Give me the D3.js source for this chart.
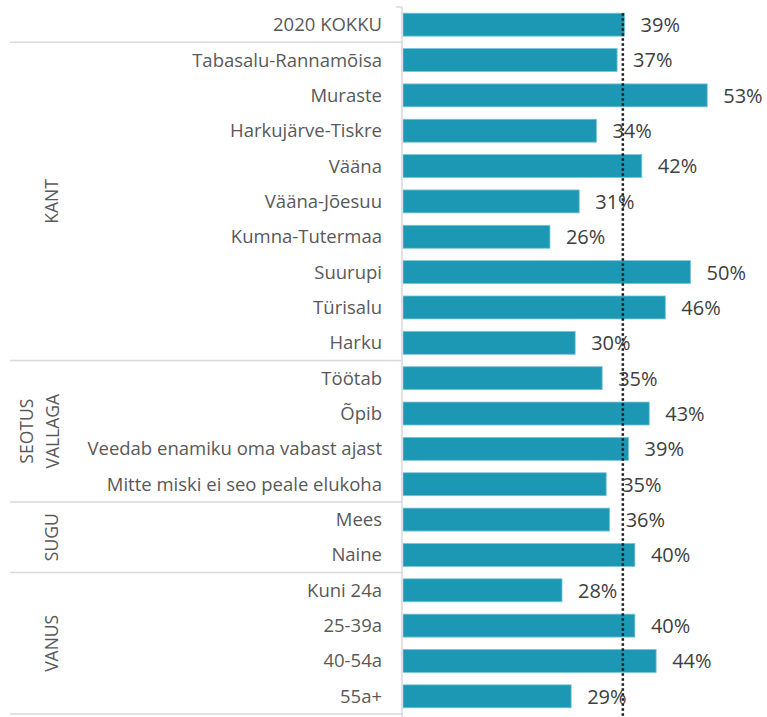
<!DOCTYPE html>
<html><head><meta charset="utf-8">
<script src="https://cdn.jsdelivr.net/npm/d3@7"></script>
<style>body{margin:0;background:#fff}svg{display:block}</style>
</head><body>
<script>
const categories = ["2020 KOKKU","Tabasalu-Rannamõisa","Muraste","Harkujärve-Tiskre","Vääna","Vääna-Jõesuu","Kumna-Tutermaa","Suurupi","Türisalu","Harku","Töötab","Õpib","Veedab enamiku oma vabast ajast","Mitte miski ei seo peale elukoha","Mees","Naine","Kuni 24a","25-39a","40-54a","55a+"];
const values = [38.6,37.3,53.0,33.7,41.6,30.7,25.6,50.1,45.7,30.0,34.7,42.9,39.3,35.4,36.0,40.4,27.7,40.4,44.1,29.3];
const groups = [
  {lines:[""], from:0, to:0},
  {lines:["KANT"], from:1, to:9},
  {lines:["SEOTUS","VALLAGA"], from:10, to:13},
  {lines:["SUGU"], from:14, to:15},
  {lines:["VANUS"], from:16, to:19}
];
const referenceValue = 38.3;

const W=767,H=717;
const svg=d3.select("body").append("svg").attr("width",W).attr("height",H);
const axisX=402, plotTop=7, plotBottom=714, plotLeft=10;
const x=d3.scaleLinear().domain([0,100]).range([axisX+1, axisX+1+574]);
const y=d3.scaleBand().domain(d3.range(categories.length)).range([plotTop,plotBottom]).paddingInner(0.35).paddingOuter(0.175);
const rowY=d3.scaleLinear().domain([0,categories.length]).range([plotTop,plotBottom]);
const font="'Open Sans', Lato, sans-serif";

// bars
svg.selectAll("rect.bar").data(values).join("rect").attr("class","bar")
  .attr("x",x(0)).attr("y",(d,i)=>y(i)).attr("width",d=>x(d)-x(0)).attr("height",y.bandwidth())
  .attr("fill","#1c98b5").attr("stroke","#7cc6d8").attr("stroke-width",0.8);

// axis lines
svg.append("line").attr("x1",axisX).attr("x2",axisX).attr("y1",plotTop).attr("y2",H).attr("stroke","#d9d9d9").attr("stroke-width",1.5);
svg.append("line").attr("x1",axisX-6).attr("x2",axisX).attr("y1",plotTop).attr("y2",plotTop).attr("stroke","#d9d9d9").attr("stroke-width",1.5);
groups.forEach(g=>{
  const yy=rowY(g.to+1);
  svg.append("line").attr("x1",plotLeft).attr("x2",axisX).attr("y1",yy).attr("y2",yy).attr("stroke","#d9d9d9").attr("stroke-width",1.5);
});

// category labels
svg.selectAll("text.cat").data(categories).join("text").attr("class","cat")
  .attr("x",382).attr("y",(d,i)=>y(i)+y.bandwidth()/2).attr("dy","0.35em")
  .attr("text-anchor","end").attr("font-family",font).attr("font-size",18.5).attr("fill","#595959").text(d=>d);

// group labels
groups.forEach(g=>{
  if(!g.lines[0]) return;
  const cy=(rowY(g.from)+rowY(g.to+1))/2;
  const n=g.lines.length;
  g.lines.forEach((t,k)=>{
    const cx = n===1 ? 52 : 27 + k*26;
    svg.append("text").attr("transform",`translate(${cx},${cy}) rotate(-90)`)
      .attr("text-anchor","middle").attr("dy","0.35em").attr("font-family",font).attr("font-size",17.5)
      .attr("fill","#595959").text(t);
  });
});

// reference line
svg.append("line").attr("x1",x(referenceValue)).attr("x2",x(referenceValue)).attr("y1",y(0)).attr("y2",H)
  .attr("stroke","#1a1a1a").attr("stroke-width",2.5).attr("stroke-dasharray","2.5,2.5");

// value labels
svg.selectAll("text.val").data(values).join("text").attr("class","val")
  .attr("x",d=>x(d)+16).attr("y",(d,i)=>y(i)+y.bandwidth()/2).attr("dy","0.37em")
  .attr("font-family",font).attr("font-size",20).attr("fill","#404040").text(d=>Math.round(d)+"%");
</script>
</body></html>
